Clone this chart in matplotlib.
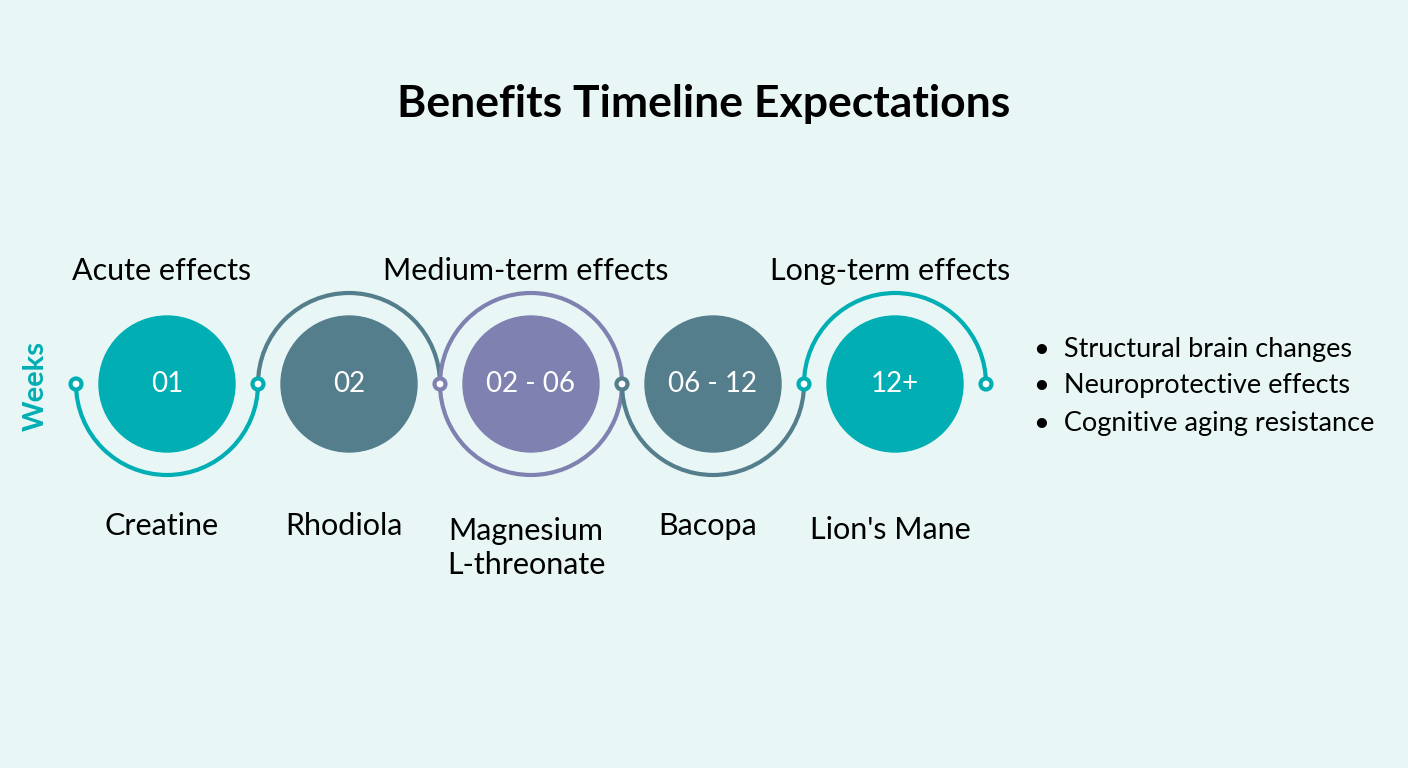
import matplotlib
matplotlib.use("Agg")
import matplotlib.pyplot as plt
from matplotlib.patches import Circle, Arc

# data
supplements = ["Creatine", "Rhodiola", "Magnesium\nL-threonate", "Bacopa", "Lion's Mane"]
week_labels = ["01", "02", "02-06", "06-12", "12+"]
phases = ["Acute effects", "Medium-term effects", "Long-term effects"]
long_term_notes = ["Structural brain changes", "Neuroprotective effects", "Cognitive aging resistance"]

teal = "#00AEB3"
slate = "#547E8C"
purple = "#7F82B0"
bg = "#E8F7F6"
fill_colors = [teal, slate, purple, slate, teal]
arc_colors = [teal, slate, purple, slate, teal]
arc_kind = ["lower", "upper", "full", "lower", "upper"]
marker_colors = [teal, teal, purple, slate, teal, teal]

fig = plt.figure(figsize=(14.08, 7.68), dpi=100, facecolor=bg)
ax = fig.add_axes([0, 0, 1, 1])
ax.set_xlim(0, 1408)
ax.set_ylim(768, 0)
ax.set_aspect("equal")
ax.axis("off")
ax.set_facecolor(bg)

font = "Lato"
cy = 384
step = 182
x0 = 167
r_in, r_arc = 68, 91

ax.text(704, 104, "Benefits Timeline Expectations", ha="center", va="center",
        fontsize=32, fontweight="bold", family=font)

for i, (name, wk) in enumerate(zip(supplements, week_labels)):
    cx = x0 + i * step
    ax.add_patch(Circle((cx, cy), r_in, color=fill_colors[i], zorder=2))
    ax.text(cx, cy, wk.replace("-", " - ") if "-" in wk else wk, ha="center", va="center",
            color="white", fontsize=20, family=font, zorder=3)
    kind = arc_kind[i]
    # y axis inverted: theta 0..180 drawn below
    if kind == "lower":
        a = Arc((cx, cy), 2 * r_arc, 2 * r_arc, theta1=0, theta2=180, color=arc_colors[i], lw=3, zorder=1)
    elif kind == "upper":
        a = Arc((cx, cy), 2 * r_arc, 2 * r_arc, theta1=180, theta2=360, color=arc_colors[i], lw=3, zorder=1)
    else:
        a = Arc((cx, cy), 2 * r_arc, 2 * r_arc, theta1=0, theta2=360, color=arc_colors[i], lw=3, zorder=1)
    ax.add_patch(a)
    ty = 526 if "\n" not in name else 548
    if name == "Lion's Mane":
        ty = 530
    ax.text(cx - 5, ty, name, ha="center", va="center", fontsize=22, family=font, linespacing=1.3)

for j, mc in enumerate(marker_colors):
    mx = x0 - r_arc + j * step
    ax.add_patch(Circle((mx, cy), 5.5, facecolor="white", edgecolor=mc, lw=3, zorder=4))

phase_x = [x0, x0 + 2 * step, x0 + 4 * step]
for px, ph in zip(phase_x, phases):
    ax.text(px - 5, 271, ph, ha="center", va="center", fontsize=22, family=font)

ax.text(36, 386, "Weeks", rotation=90, ha="center", va="center", color=teal,
        fontsize=21, fontweight="bold", family=font)

for k, note in enumerate(long_term_notes):
    ax.text(1034, 349 + k * 37, "\u2022  " + note, ha="left", va="center", fontsize=19.5, family=font)

fig.savefig("out.png", dpi=100, facecolor=bg)
